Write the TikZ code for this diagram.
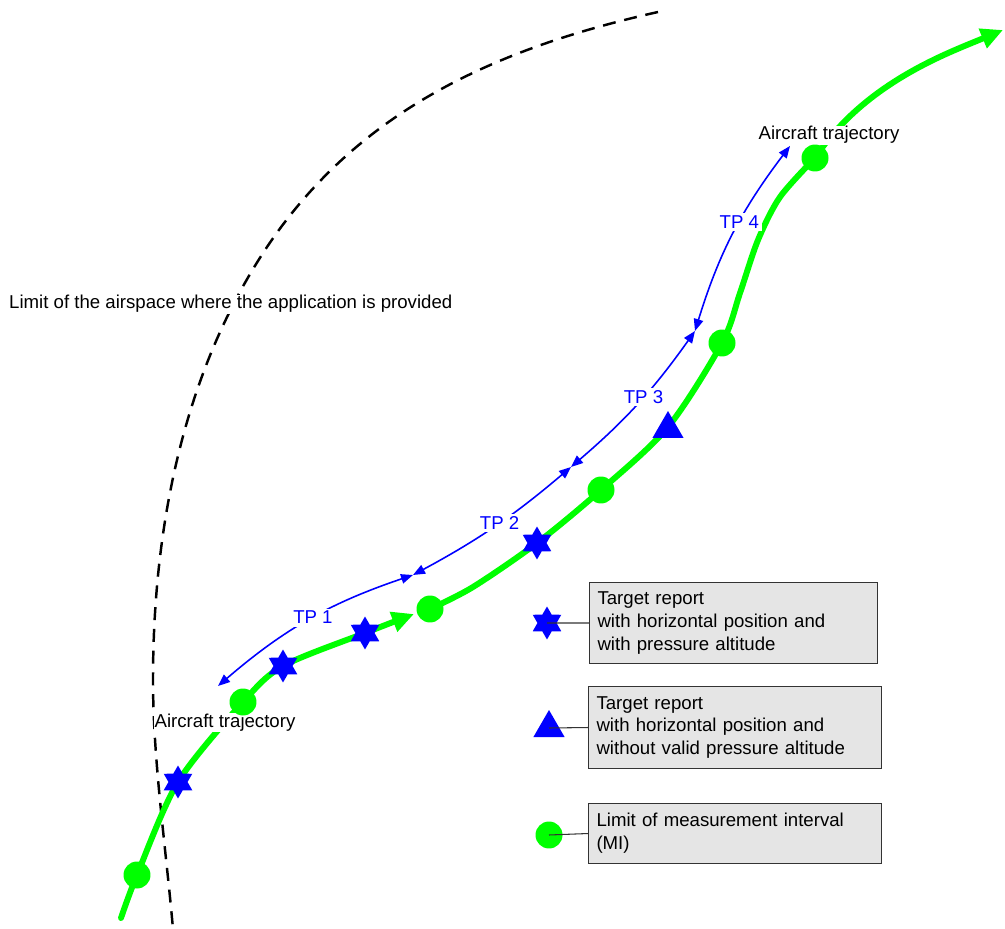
\documentclass[tikz,border=0pt]{standalone}
\usepackage{fontspec}
\setmainfont{Liberation Sans}
\usepackage{tikz}
\usetikzlibrary{arrows.meta,shapes.geometric}

\begin{document}
\begin{tikzpicture}[x=0.02cm,y=0.02cm,font=\fontsize{10.6}{13}\selectfont,
  traj/.style={draw=green,line width=3.4pt,line cap=round},
  trajtip/.style={-{Triangle[length=0.44cm,width=0.4cm]}},
  mi/.style={circle,fill=green,inner sep=0pt,minimum size=0.54cm},
  report/.style={star,star points=6,star point ratio=1.73,fill=blue,inner sep=0pt,minimum size=0.66cm},
  noalt/.style={regular polygon,regular polygon sides=3,fill=blue,inner sep=0pt,minimum size=0.72cm},
  tp/.style={blue,line width=0.9pt,{Triangle[length=0.24cm,width=0.19cm]}-{Triangle[length=0.24cm,width=0.19cm]}},
  tplabel/.style={fill=white,text=blue,inner sep=1.5pt},
  trajlabel/.style={fill=white,inner sep=0.5pt,anchor=base},
  legendbox/.style={draw=black!80,fill=gray!20,line width=0.6pt,anchor=north west,align=left,inner xsep=0.16cm,inner ysep=0pt},
  legline/.style={black!80,line width=0.6pt}]
\useasboundingbox (0,0) rectangle (1005,-929);

\draw[black,line width=1.4pt,dash pattern=on 7.4pt off 5pt] (658,-12) .. controls (497,-48) and (359,-110) .. (267,-247) .. controls (183,-373) and (153,-528) .. (153,-680) .. controls (153,-760) and (166,-849) .. (173,-929);
\node[fill=white,inner sep=0.5pt,anchor=base west] (limit) at (8,-309) {Limit of the airspace where the application is provided};

\draw[traj,trajtip] plot[smooth] coordinates {(121,-918) (137,-875) (178,-782) (243,-702) (283,-666) (365,-633) (414,-614)};
\draw[traj,trajtip] plot[smooth] coordinates {(430,-609) (473,-587) (537,-543) (601,-490) (668,-427) (722,-343) (740,-293) (758,-240) (780,-197) (815,-158)} .. controls (864,-83) and (948,-53) .. (1003,-30);
\node[trajlabel] (traj1) at (225,-727) {Aircraft trajectory};
\node[trajlabel] (traj2) at (829,-140) {Aircraft trajectory};

\node[mi] (mi1) at (137,-875) {};
\node[mi] (mi2) at (243,-702) {};
\node[mi] (mi3) at (430,-609) {};
\node[mi] (mi4) at (601,-490) {};
\node[mi] (mi5) at (722,-343) {};
\node[mi] (mi6) at (815,-158) {};
\node[report] (tr1) at (178,-782) {};
\node[report] (tr2) at (283,-666) {};
\node[report] (tr3) at (365,-633) {};
\node[report] (tr4) at (537,-543) {};
\node[noalt] (tr5) at (668,-429) {};

\coordinate (j0) at (218,-686);
\coordinate (j1) at (413,-575);
\coordinate (j2) at (571,-467);
\coordinate (j3) at (695,-331);
\coordinate (j4) at (790,-146);
\draw[tp] (j0) to[bend left=11] node[tplabel,pos=0.52] {TP 1} (j1);
\draw[tp] (j1) to[bend right=6] node[tplabel,pos=0.53] {TP 2} (j2);
\draw[tp] (j2) to[bend right=7] node[tplabel,pos=0.55] {TP 3} (j3);
\draw[tp] (j3) to[bend left=10] node[tplabel,pos=0.57] {TP 4} (j4);

\node[report] (lst) at (547,-623) {};
\node[noalt] (ltri) at (549,-728) {};
\node[mi] (lmi) at (549,-835) {};
\node[legendbox,text width=5.44cm,minimum height=1.62cm] (box1) at (589,-582) {Target report\\with horizontal position and\\with pressure altitude};
\node[legendbox,text width=5.54cm,minimum height=1.64cm] (box2) at (588,-686) {Target report\\with horizontal position and\\without valid pressure altitude};
\node[legendbox,text width=5.54cm,minimum height=1.2cm] (box3) at (588,-803) {Limit of measurement interval\\(MI)};
\draw[legline] (lst.center) -- (box1.west);
\draw[legline] (ltri.center) -- (box2.west);
\draw[legline] (lmi.center) -- (box3.west);
\end{tikzpicture}
\end{document}
